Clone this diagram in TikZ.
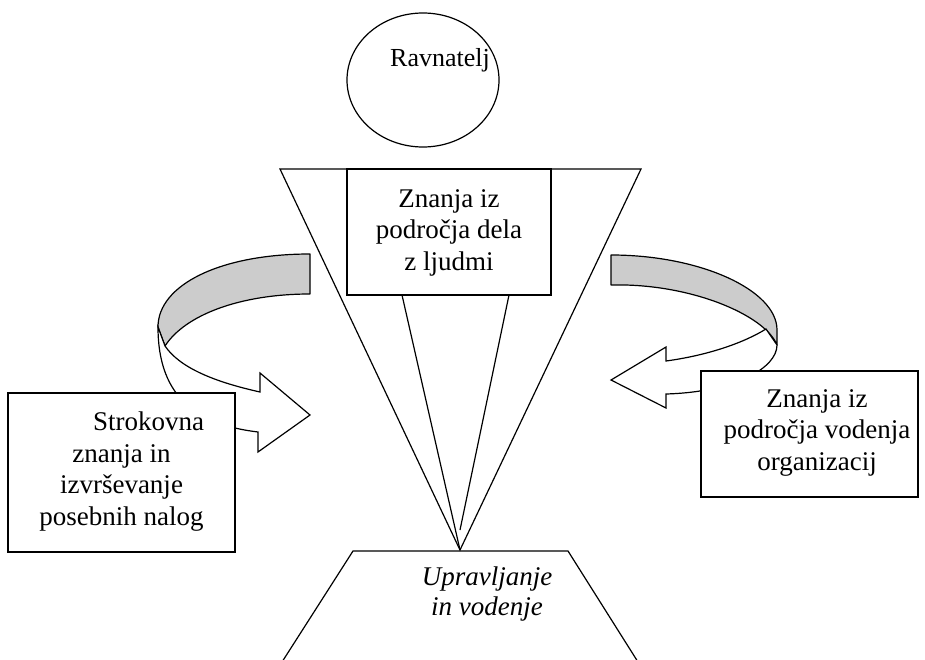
\documentclass[tikz,border=0pt]{standalone}
\usepackage{fontspec}
\setmainfont{Liberation Serif}
\usetikzlibrary{shapes.geometric}
\definecolor{bandgray}{RGB}{204,204,204}
\tikzset{
  outline/.style={draw, line width=1.2pt, line join=miter},
  box/.style={draw, line width=1.2pt, fill=white, rectangle, inner sep=0pt},
  txt/.style={font=\fontsize{27}{31.5}\selectfont, align=center, inner sep=0pt, anchor=base},
  band/.style={fill=bandgray, draw, line width=1.2pt, line join=round},
  front/.style={fill=white, draw, line width=1.2pt, line join=miter}
}
\begin{document}
\begin{tikzpicture}[x=1pt, y=-1pt]
\useasboundingbox (0,0) rectangle (925,660);

% funnel with its inner rays
\coordinate (fl) at (280,169);
\coordinate (fr) at (641,169);
\coordinate (apex) at (460,550);
\coordinate (ray1) at (402,295);
\coordinate (ray2) at (509,295);
\coordinate (ray2end) at (460,530);
\draw[outline] (fl) -- (fr) -- (apex) -- cycle;
\draw[outline] (ray1) -- (apex);
\draw[outline] (ray2) -- (ray2end);
\node[box, minimum width=204pt, minimum height=126pt] (people) at (449,232) {};

% left curved ribbon arrow
\draw[band] (310,254) .. controls (220,254) and (158,285) .. (158,327)
  -- (165,346) .. controls (185,315) and (240,294) .. (310,294) -- cycle;
\draw[front] (158,327) .. controls (158,400) and (200,425) .. (258,432)
  -- (258,452) -- (310,415) -- (260,373) -- (260,392)
  .. controls (215,382) and (180,368) .. (165,346) -- cycle;

% right curved ribbon arrow
\draw[band] (611,255) .. controls (700,255) and (777,290) .. (777,330)
  -- (777,345) .. controls (765,315) and (690,283) .. (611,285) -- cycle;
\draw[front] (777,345) .. controls (777,368) and (735,392) .. (666,394)
  -- (666,408) -- (611,380) -- (666,347) -- (666,361)
  .. controls (710,355) and (745,342) .. (766,329) -- cycle;

% side boxes
\node[box, minimum width=227pt, minimum height=159pt] (expert) at (121.5,472.5) {};
\node[box, minimum width=217pt, minimum height=126pt] (org) at (809.5,434) {};

% base trapezoid
\coordinate (tbl) at (282,662);
\coordinate (ttl) at (353,551);
\coordinate (ttr) at (568,551);
\coordinate (tbr) at (638,662);
\draw[outline] (tbl) -- (ttl) -- (ttr) -- (tbr);

% head
\node[draw, line width=1.2pt, ellipse, minimum width=152pt, minimum height=134pt, inner sep=0pt] (head) at (423,80) {};

% labels (anchored on the baseline of their last line)
\node[txt, anchor=base west, font=\fontsize{26}{30}\selectfont] (headtext) at (390,67) {Ravnatelj};
\node[txt] (peopletext) at (449,270) {Znanja iz\\področja dela\\z ljudmi};
\node[txt] (experttext) at (121.5,525) {\hspace*{54pt}Strokovna\\znanja in\\izvrševanje\\posebnih nalog};
\node[txt] (orgtext) at (817,470) {Znanja iz\\področja vodenja\\organizacij};
\node[txt, font=\fontsize{27}{30}\selectfont\itshape] (basetext) at (487,615) {Upravljanje\\in vodenje};
\end{tikzpicture}
\end{document}
